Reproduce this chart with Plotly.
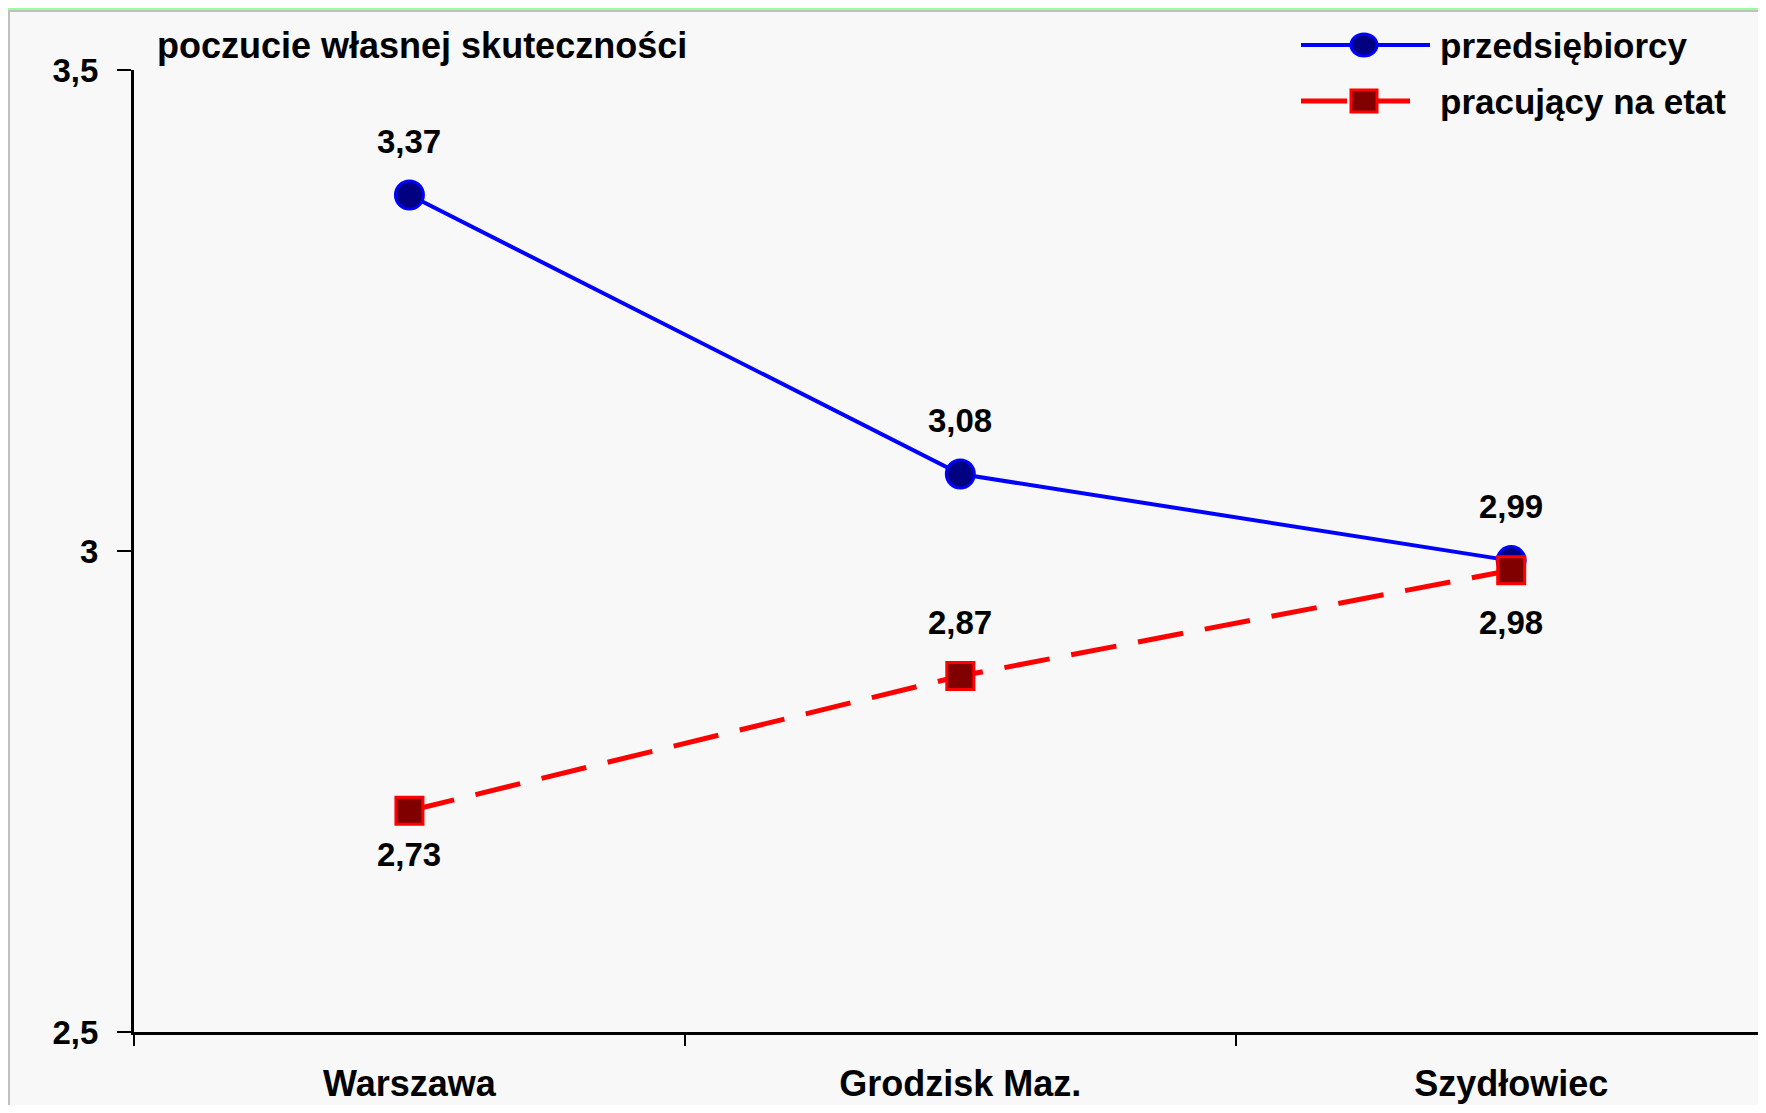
"""Poczucie własnej skuteczności - przedsiębiorcy vs pracujący na etat."""

import plotly.graph_objects as go

# data
miasta = ["Warszawa", "Grodzisk Maz.", "Szydłowiec"]
przedsiebiorcy = [3.37, 3.08, 2.99]
pracujacy = [2.73, 2.87, 2.98]
serie = ["przedsiębiorcy", "pracujący na etat"]
tytul = "poczucie własnej skuteczności"

# label placement: +1 above the point, -1 below
poz_przedsiebiorcy = [1, 1, 1]
poz_pracujacy = [-1, 1, -1]

# page is 1766x1113, the html body adds an 8px margin on every side
PAGE_W, PAGE_H, OFF = 1766, 1113, 8
W, H = PAGE_W - 2 * OFF, PAGE_H - 2 * OFF
ML, MR, MT = 134 - OFF, 0, 70 - OFF
MB = H + OFF - 1032
PW, PH = W - ML - MR, H - MT - MB

FONT = "Liberation Sans, Arial, sans-serif"
BG = "#f8f8f8"
NIEBIESKI, GRANAT = "#0000ff", "#000080"
CZERWONY, BORDO = "#ff0000", "#800000"
KRESKA = "46px,22px"


def px_x(p):
    """page pixel -> paper x"""
    return (p - OFF - ML) / PW


def px_y(p):
    """page pixel (from top) -> paper y"""
    return 1 - (p - OFF - MT) / PH


def fmt(v):
    return f"{v:.2f}".replace(".", ",")


fig = go.Figure()

fig.add_trace(
    go.Scatter(
        x=miasta,
        y=przedsiebiorcy,
        mode="lines+markers",
        name=serie[0],
        line=dict(color=NIEBIESKI, width=4),
        marker=dict(size=28, color=GRANAT, symbol="circle", line=dict(color=NIEBIESKI, width=3)),
    )
)

fig.add_trace(
    go.Scatter(
        x=miasta,
        y=pracujacy,
        mode="lines+markers",
        name=serie[1],
        line=dict(color=CZERWONY, width=5, dash=KRESKA),
        marker=dict(size=27, color=BORDO, symbol="square", line=dict(color=CZERWONY, width=3)),
    )
)

# data labels
for seria, pozycje in ((przedsiebiorcy, poz_przedsiebiorcy), (pracujacy, poz_pracujacy)):
    for m, v, p in zip(miasta, seria, pozycje):
        if p > 0:
            shift = 54
        else:
            shift = -44 if v < 2.8 else -52
        fig.add_annotation(
            x=m,
            y=v,
            text=fmt(v),
            showarrow=False,
            yshift=shift,
            font=dict(family=FONT, size=33, color="black", weight="bold"),
        )

# title in the corner
fig.add_annotation(
    xref="paper",
    yref="paper",
    x=px_x(155),
    y=px_y(45),
    xanchor="left",
    yanchor="middle",
    text=tytul,
    showarrow=False,
    font=dict(family=FONT, size=36, color="black", weight="bold"),
)

# legend drawn by hand (long line samples with full-size markers)
legenda = [
    (serie[0], 45, NIEBIESKI, GRANAT, "solid", 4, "circle", 1430),
    (serie[1], 101, CZERWONY, BORDO, KRESKA, 5, "rect", 1410),
]
for nazwa, yc, kolor, wypelnienie, dash, lw, ksztalt, koniec in legenda:
    fig.add_shape(
        type="line",
        xref="paper",
        yref="paper",
        x0=px_x(1301),
        x1=px_x(koniec),
        y0=px_y(yc),
        y1=px_y(yc),
        line=dict(color=kolor, width=lw, dash=dash),
    )
    fig.add_shape(
        type=ksztalt,
        xref="paper",
        yref="paper",
        x0=px_x(1351),
        x1=px_x(1377),
        y0=px_y(yc - 11),
        y1=px_y(yc + 11),
        fillcolor=wypelnienie,
        line=dict(color=kolor, width=3),
    )
    fig.add_annotation(
        xref="paper",
        yref="paper",
        x=px_x(1438),
        y=px_y(yc),
        xanchor="left",
        yanchor="middle",
        text=nazwa,
        showarrow=False,
        font=dict(family=FONT, size=35, color="black", weight="bold"),
    )

# green frame on top and left
ramka = [
    (0, 0, PAGE_W, 10, "#99ff99"),
    (0, 0, 7, PAGE_H, "#99ff99"),
    (7, 10, PAGE_W, 12, "#c0c0c0"),
    (7, 10, 10, PAGE_H, "#c0c0c0"),
]
for x0, y0, x1, y1, c in ramka:
    fig.add_shape(
        type="rect",
        xref="paper",
        yref="paper",
        x0=px_x(max(x0, OFF)),
        x1=px_x(min(x1, PAGE_W - OFF)),
        y0=px_y(max(y0, OFF)),
        y1=px_y(min(y1, PAGE_H - OFF)),
        fillcolor=c,
        line=dict(width=0),
        layer="above",
    )

fig.update_layout(
    width=W,
    height=H,
    margin=dict(l=ML, r=MR, t=MT, b=MB),
    paper_bgcolor=BG,
    plot_bgcolor=BG,
    separators=", ",
    font=dict(family=FONT, color="black"),
    showlegend=False,
    xaxis=dict(
        type="category",
        range=[-0.5, 2.448],
        showgrid=False,
        zeroline=False,
        showline=True,
        linecolor="black",
        linewidth=3,
        ticks="outside",
        tickson="boundaries",
        ticklen=11,
        tickwidth=2,
        tickcolor="black",
        ticklabelstandoff=18,
        tickfont=dict(family=FONT, size=36, color="black", weight="bold"),
    ),
    yaxis=dict(
        range=[2.5, 3.5],
        dtick=0.5,
        showgrid=False,
        zeroline=False,
        showline=True,
        linecolor="black",
        linewidth=3,
        ticks="outside",
        ticklen=14,
        tickwidth=2,
        tickcolor="black",
        ticklabelstandoff=12,
        tickfont=dict(family=FONT, size=33, color="black", weight="bold"),
    ),
)

fig.write_html("out.html")
